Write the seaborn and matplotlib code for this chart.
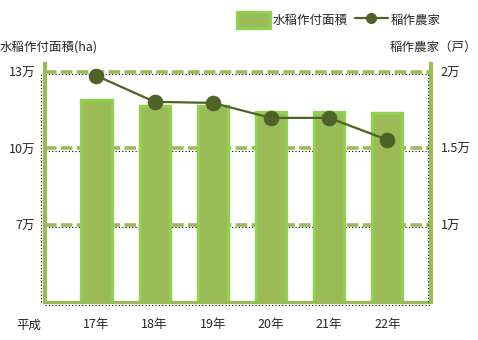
import matplotlib
matplotlib.use("Agg")
import matplotlib.pyplot as plt
from matplotlib.transforms import ScaledTranslation
from matplotlib.patches import Patch
from matplotlib.lines import Line2D
import seaborn as sns
import pandas as pd

# Paddy rice planted area (ha) and number of rice-farming households
years = ["17年", "18年", "19年", "20年", "21年", "22年"]
area_ha = [119000, 116700, 116600, 114300, 114200, 114000]
farmers = [19740, 18040, 17970, 16990, 16990, 15560]

left_ticks = [70000, 100000, 130000]
left_labels = ["7万", "10万", "13万"]
right_ticks = [10000, 15000, 20000]
right_labels = ["1万", "1.5万", "2万"]

BAR_FILL = "#9BBB59"
BAR_EDGE = "#92D050"
LINE_COL = "#4F6228"
FONT = ["Noto Sans CJK JP", "DejaVu Sans"]
FS = 9

sns.set_theme(style="white")
plt.rcParams["font.family"] = FONT
plt.rcParams["font.size"] = FS

df = pd.DataFrame({"year": years, "area": area_ha, "farmers": farmers, "pos": range(len(years))})

fig = plt.figure(figsize=(4.78, 3.40), dpi=100)
ax = fig.add_axes([45 / 478, (340 - 301.5) / 340, 386 / 478, (301.5 - 64) / 340])

sns.barplot(data=df, x="year", y="area", ax=ax, color=BAR_FILL, width=0.52,
            edgecolor=BAR_EDGE, linewidth=2.4, saturation=1, zorder=2)
for p in ax.patches:
    p.set_facecolor(BAR_FILL)

ax.set_ylim(40000, 133100)
ax.set_xlim(-0.885, 5.75)
ax.set_yticks(left_ticks)
ax.set_yticklabels(left_labels)
ax.set_xlabel("")
ax.set_ylabel("")
ax.tick_params(axis="both", length=0, labelsize=FS)
ax.tick_params(axis="y", pad=7)
ax.tick_params(axis="x", pad=12)

# dashed green gridlines with a fine black dotted line just under each
below = ax.get_yaxis_transform() + ScaledTranslation(0, -2.5 / 100, fig.dpi_scale_trans)
for t in left_ticks:
    ax.axhline(t, color=BAR_FILL, lw=2.6, ls=(0, (3.2, 1.2)), zorder=1)
    ax.plot([0, 1], [t, t], transform=below, color="black", lw=0.8,
            ls=(0, (1, 2)), zorder=1.5)

for side in ["top", "right"]:
    ax.spines[side].set_visible(False)
ax.spines["left"].set_color(BAR_FILL)
ax.spines["left"].set_linewidth(3)
ax.spines["bottom"].set_color(BAR_FILL)
ax.spines["bottom"].set_linewidth(2.3)

# dotted frame lines just outside the green spines
lt = ax.transAxes + ScaledTranslation(-4 / 100, 0, fig.dpi_scale_trans)
ax.plot([0, 0], [0, 0.96], transform=lt, color="black", lw=0.8, ls=(0, (1, 2)), clip_on=False)
bt = ax.transAxes + ScaledTranslation(0, -3.5 / 100, fig.dpi_scale_trans)
ax.plot([0, 1], [0, 0], transform=bt, color="black", lw=0.8, ls=(0, (1, 2)), clip_on=False)
rt = ax.transAxes + ScaledTranslation(-3 / 100, 0, fig.dpi_scale_trans)
ax.plot([1, 1], [0, 0.96], transform=rt, color="black", lw=0.8, ls=(0, (1, 2)), clip_on=False, zorder=3)

ax2 = ax.twinx()
sns.lineplot(data=df, x="pos", y="farmers", ax=ax2, color=LINE_COL, lw=1.6,
             marker="o", markersize=10.5, markeredgecolor=LINE_COL, zorder=5)
ax2.set_xlim(-0.885, 5.75)
ax2.set_ylim(5000, 20510)
ax2.set_yticks(right_ticks)
ax2.set_yticklabels(right_labels)
ax2.set_ylabel("")
ax2.set_xlabel("")
ax2.tick_params(axis="y", length=0, pad=7, labelsize=FS)
for side in ["top", "left", "bottom"]:
    ax2.spines[side].set_visible(False)
ax2.spines["right"].set_color(BAR_FILL)
ax2.spines["right"].set_linewidth(3)

# axis titles and era label
fig.text(0 / 478, 1 - 47 / 340, "水稲作付面積(ha)", ha="left", va="center", fontsize=FS)
fig.text(477 / 478, 1 - 47 / 340, "稲作農家（戸）", ha="right", va="center", fontsize=FS)
fig.text(28.5 / 478, 1 - 325 / 340, "平成", ha="center", va="center", fontsize=FS)

handles = [
    Patch(facecolor=BAR_FILL, edgecolor=BAR_EDGE, linewidth=2.4),
    Line2D([], [], color=LINE_COL, lw=1.6, marker="o", markersize=7),
]
fig.legend(handles, ["水稲作付面積", "稲作農家"], loc="center left",
           bbox_to_anchor=(237 / 478, 1 - 20 / 340), ncol=2, frameon=False,
           handlelength=2.6, handleheight=1.6, columnspacing=0.6,
           handletextpad=0.25, borderpad=0, borderaxespad=0, fontsize=FS)

fig.savefig("out.png", dpi=100)
